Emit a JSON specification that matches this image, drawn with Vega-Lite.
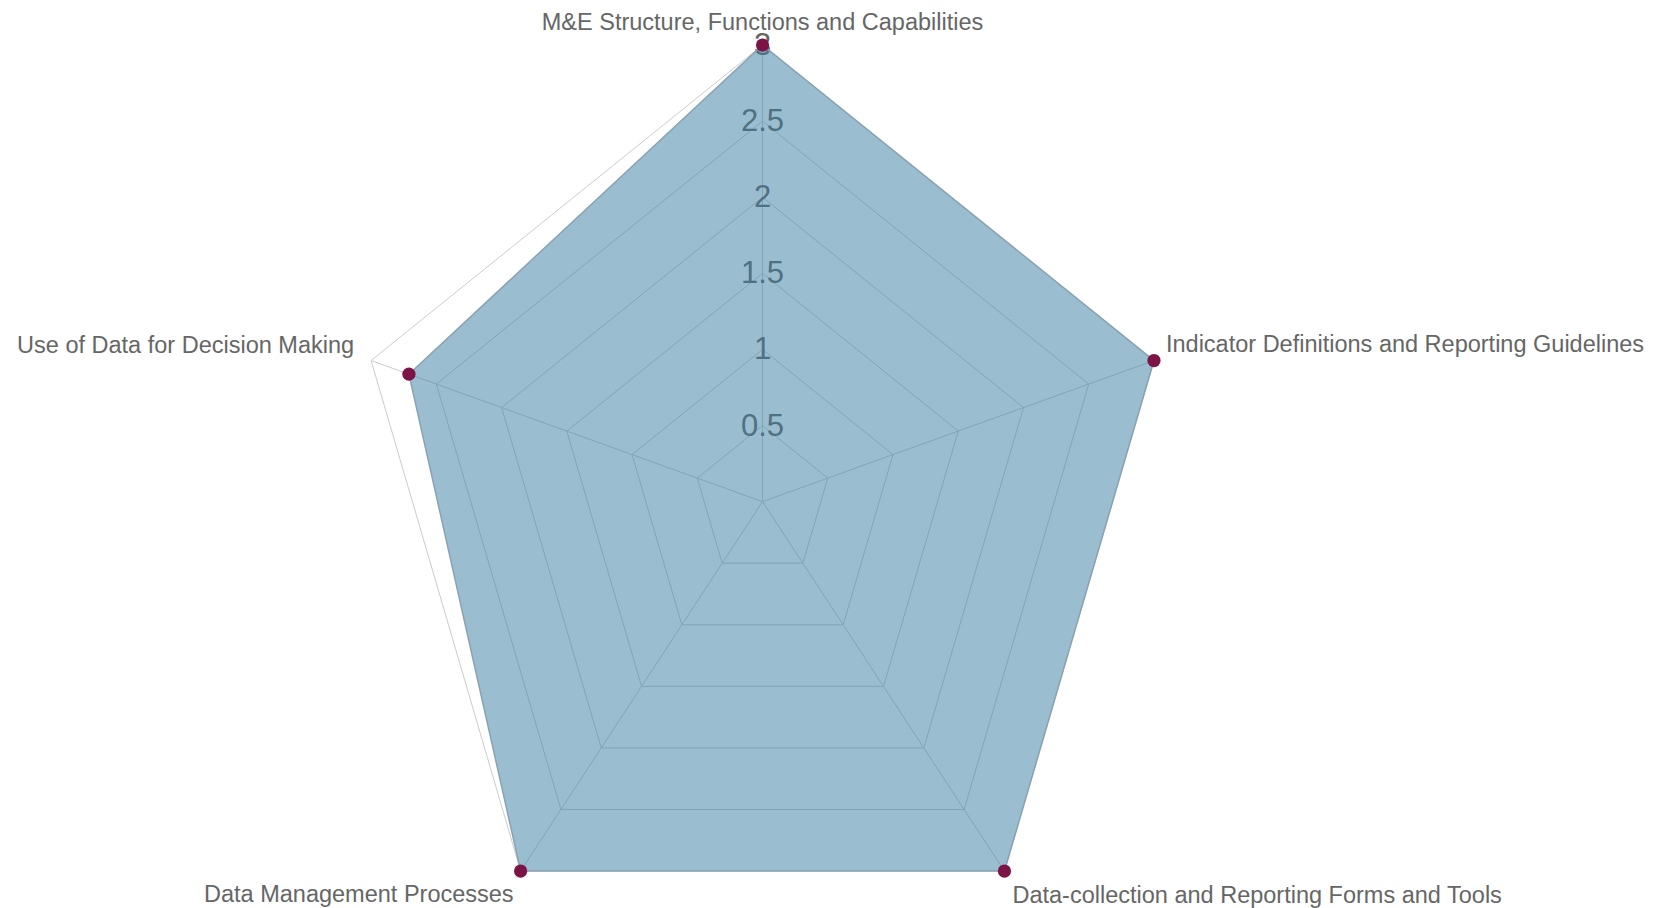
{
  "$schema": "https://vega.github.io/schema/vega-lite/v6.json",
  "width": 1658,
  "height": 908,
  "padding": 0,
  "autosize": {"type": "fit", "contains": "padding"},
  "background": "white",
  "config": {"view": {"stroke": null}},
  "datasets": {
    "axes": [
      {"axis": "M&E Structure, Functions and Capabilities", "idx": 0, "value": 3},
      {"axis": "Indicator Definitions and Reporting Guidelines", "idx": 1, "value": 3},
      {"axis": "Data-collection and Reporting Forms and Tools", "idx": 2, "value": 3},
      {"axis": "Data Management Processes", "idx": 3, "value": 3},
      {"axis": "Use of Data for Decision Making", "idx": 4, "value": 2.71}
    ],
    "grid": [
      {"level": 0.5, "idx": [0, 1, 2, 3, 4]},
      {"level": 1, "idx": [0, 1, 2, 3, 4]},
      {"level": 1.5, "idx": [0, 1, 2, 3, 4]},
      {"level": 2, "idx": [0, 1, 2, 3, 4]},
      {"level": 2.5, "idx": [0, 1, 2, 3, 4]},
      {"level": 3, "idx": [0, 1, 2, 3, 4]}
    ],
    "ticks": [
      {"tick": 0.5}, {"tick": 1}, {"tick": 1.5}, {"tick": 2}, {"tick": 2.5}, {"tick": 3}
    ]
  },
  "layer": [
    {
      "data": {"name": "grid"},
      "transform": [
        {"flatten": ["idx"]},
        {"calculate": "(90 - 72 * datum.idx) * PI / 180", "as": "ang"},
        {"calculate": "datum.level * cos(datum.ang)", "as": "gx"},
        {"calculate": "datum.level * sin(datum.ang)", "as": "gy"}
      ],
      "mark": {"type": "line", "interpolate": "linear-closed", "stroke": "#cccccc", "strokeWidth": 1},
      "encoding": {
        "x": {"field": "gx", "type": "quantitative", "axis": null, "scale": {"domain": [-5.558, 6.527], "nice": false, "zero": false}},
        "y": {"field": "gy", "type": "quantitative", "axis": null, "scale": {"domain": [-2.670, 3.296], "nice": false, "zero": false}},
        "detail": {"field": "level", "type": "nominal"},
        "order": {"field": "idx", "type": "quantitative"}
      }
    },
    {
      "data": {"name": "axes"},
      "transform": [
        {"calculate": "(90 - 72 * datum.idx) * PI / 180", "as": "ang"},
        {"calculate": "3 * cos(datum.ang)", "as": "ox"},
        {"calculate": "3 * sin(datum.ang)", "as": "oy"},
        {"calculate": "0", "as": "cx"},
        {"calculate": "0", "as": "cy"}
      ],
      "mark": {"type": "rule", "stroke": "#cccccc", "strokeWidth": 1},
      "encoding": {
        "x": {"field": "cx", "type": "quantitative", "axis": null, "scale": {"domain": [-5.558, 6.527], "nice": false, "zero": false}},
        "y": {"field": "cy", "type": "quantitative", "axis": null, "scale": {"domain": [-2.670, 3.296], "nice": false, "zero": false}},
        "x2": {"field": "ox"},
        "y2": {"field": "oy"}
      }
    },
    {
      "data": {"name": "ticks"},
      "transform": [{"calculate": "0", "as": "cx"}],
      "mark": {"type": "text", "font": "Liberation Sans Narrow, Arial Narrow, Liberation Sans, Arial", "fontSize": 31, "fill": "#666666", "align": "center", "baseline": "middle", "dy": 1},
      "encoding": {
        "x": {"field": "cx", "type": "quantitative", "axis": null, "scale": {"domain": [-5.558, 6.527], "nice": false, "zero": false}},
        "y": {"field": "tick", "type": "quantitative", "axis": null, "scale": {"domain": [-2.670, 3.296], "nice": false, "zero": false}},
        "text": {"field": "tick", "type": "quantitative", "format": "~g"}
      }
    },
    {
      "data": {"name": "axes"},
      "transform": [
        {"calculate": "(90 - 72 * datum.idx) * PI / 180", "as": "ang"},
        {"calculate": "datum.value * cos(datum.ang)", "as": "px"},
        {"calculate": "datum.value * sin(datum.ang)", "as": "py"}
      ],
      "mark": {"type": "line", "interpolate": "linear-closed", "fill": "#377ba1", "fillOpacity": 0.5, "stroke": "#8aa3b3", "strokeWidth": 1.5},
      "encoding": {
        "x": {"field": "px", "type": "quantitative", "axis": null, "scale": {"domain": [-5.558, 6.527], "nice": false, "zero": false}},
        "y": {"field": "py", "type": "quantitative", "axis": null, "scale": {"domain": [-2.670, 3.296], "nice": false, "zero": false}},
        "order": {"field": "idx", "type": "quantitative"}
      }
    },
    {
      "data": {"name": "axes"},
      "transform": [
        {"calculate": "(90 - 72 * datum.idx) * PI / 180", "as": "ang"},
        {"calculate": "datum.value * cos(datum.ang)", "as": "px"},
        {"calculate": "datum.value * sin(datum.ang)", "as": "py"}
      ],
      "mark": {"type": "point", "filled": true, "fill": "#7c1446", "fillOpacity": 1, "size": 175, "strokeWidth": 0},
      "encoding": {
        "x": {"field": "px", "type": "quantitative", "axis": null, "scale": {"domain": [-5.558, 6.527], "nice": false, "zero": false}},
        "y": {"field": "py", "type": "quantitative", "axis": null, "scale": {"domain": [-2.670, 3.296], "nice": false, "zero": false}}
      }
    },
    {
      "data": {"name": "axes"},
      "transform": [
        {"filter": "datum.idx == 0"},
        {"calculate": "(90 - 72 * datum.idx) * PI / 180", "as": "ang"},
        {"calculate": "3 * cos(datum.ang)", "as": "ox"},
        {"calculate": "3 * sin(datum.ang)", "as": "oy"}
      ],
      "mark": {"type": "text", "font": "Liberation Sans, Arial", "fontSize": 23.5, "fill": "#666666", "align": "center", "baseline": "alphabetic", "dy": -15},
      "encoding": {
        "x": {"field": "ox", "type": "quantitative", "axis": null, "scale": {"domain": [-5.558, 6.527], "nice": false, "zero": false}},
        "y": {"field": "oy", "type": "quantitative", "axis": null, "scale": {"domain": [-2.670, 3.296], "nice": false, "zero": false}},
        "text": {"field": "axis", "type": "nominal"}
      }
    },
    {
      "data": {"name": "axes"},
      "transform": [
        {"filter": "datum.idx == 1"},
        {"calculate": "(90 - 72 * datum.idx) * PI / 180", "as": "ang"},
        {"calculate": "3 * cos(datum.ang)", "as": "ox"},
        {"calculate": "3 * sin(datum.ang)", "as": "oy"}
      ],
      "mark": {"type": "text", "font": "Liberation Sans, Arial", "fontSize": 23.5, "fill": "#666666", "align": "left", "baseline": "alphabetic", "dx": 12, "dy": -9},
      "encoding": {
        "x": {"field": "ox", "type": "quantitative", "axis": null, "scale": {"domain": [-5.558, 6.527], "nice": false, "zero": false}},
        "y": {"field": "oy", "type": "quantitative", "axis": null, "scale": {"domain": [-2.670, 3.296], "nice": false, "zero": false}},
        "text": {"field": "axis", "type": "nominal"}
      }
    },
    {
      "data": {"name": "axes"},
      "transform": [
        {"filter": "datum.idx == 2"},
        {"calculate": "(90 - 72 * datum.idx) * PI / 180", "as": "ang"},
        {"calculate": "3 * cos(datum.ang)", "as": "ox"},
        {"calculate": "3 * sin(datum.ang)", "as": "oy"}
      ],
      "mark": {"type": "text", "font": "Liberation Sans, Arial", "fontSize": 23.5, "fill": "#666666", "align": "left", "baseline": "alphabetic", "dx": 8, "dy": 32},
      "encoding": {
        "x": {"field": "ox", "type": "quantitative", "axis": null, "scale": {"domain": [-5.558, 6.527], "nice": false, "zero": false}},
        "y": {"field": "oy", "type": "quantitative", "axis": null, "scale": {"domain": [-2.670, 3.296], "nice": false, "zero": false}},
        "text": {"field": "axis", "type": "nominal"}
      }
    },
    {
      "data": {"name": "axes"},
      "transform": [
        {"filter": "datum.idx == 3"},
        {"calculate": "(90 - 72 * datum.idx) * PI / 180", "as": "ang"},
        {"calculate": "3 * cos(datum.ang)", "as": "ox"},
        {"calculate": "3 * sin(datum.ang)", "as": "oy"}
      ],
      "mark": {"type": "text", "font": "Liberation Sans, Arial", "fontSize": 23.5, "fill": "#666666", "align": "right", "baseline": "alphabetic", "dx": -7, "dy": 31},
      "encoding": {
        "x": {"field": "ox", "type": "quantitative", "axis": null, "scale": {"domain": [-5.558, 6.527], "nice": false, "zero": false}},
        "y": {"field": "oy", "type": "quantitative", "axis": null, "scale": {"domain": [-2.670, 3.296], "nice": false, "zero": false}},
        "text": {"field": "axis", "type": "nominal"}
      }
    },
    {
      "data": {"name": "axes"},
      "transform": [
        {"filter": "datum.idx == 4"},
        {"calculate": "(90 - 72 * datum.idx) * PI / 180", "as": "ang"},
        {"calculate": "3 * cos(datum.ang)", "as": "ox"},
        {"calculate": "3 * sin(datum.ang)", "as": "oy"}
      ],
      "mark": {"type": "text", "font": "Liberation Sans, Arial", "fontSize": 23.5, "fill": "#666666", "align": "right", "baseline": "alphabetic", "dx": -17, "dy": -8},
      "encoding": {
        "x": {"field": "ox", "type": "quantitative", "axis": null, "scale": {"domain": [-5.558, 6.527], "nice": false, "zero": false}},
        "y": {"field": "oy", "type": "quantitative", "axis": null, "scale": {"domain": [-2.670, 3.296], "nice": false, "zero": false}},
        "text": {"field": "axis", "type": "nominal"}
      }
    }
  ]
}
